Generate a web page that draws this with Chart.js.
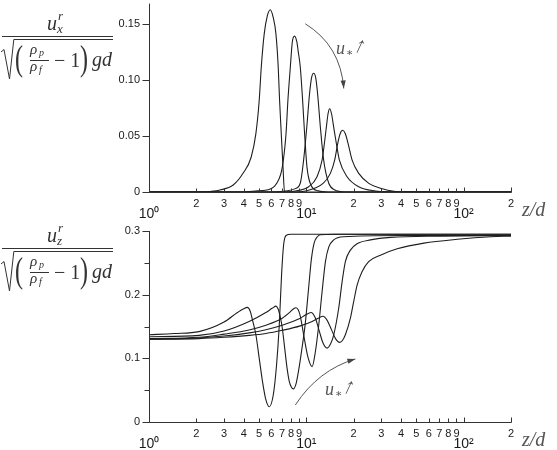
<!DOCTYPE html>
<html>
<head>
<meta charset="utf-8">
<script src="https://cdn.jsdelivr.net/npm/chart.js@4.4.1/dist/chart.umd.min.js"></script>
<style>
  html, body { margin: 0; padding: 0; background: #fff; }
  #page { position: relative; width: 557px; height: 450px; overflow: hidden; }
  .box { position: absolute; left: 0; width: 557px; }
  .m { position: absolute; font-family: "Liberation Serif", "DejaVu Serif", serif; color: #333; line-height: 1; white-space: nowrap; }
  .it { font-style: italic; }
  .g { color: #555; }
  .rule { position: absolute; height: 1px; background: #333; }
</style>
</head>
<body>
<div id="page">
  <div class="box" style="top:-12px;height:236px"><canvas id="topChart"></canvas></div>
  <div class="box" style="top:212px;height:238px"><canvas id="bottomChart"></canvas></div>
  <div id="labels"></div>
</div>
<script>
// x axis (log) ticks, shared by both panels
const xTickValues = [1, 2, 3, 4, 5, 6, 7, 8, 9, 10, 20, 30, 40, 50, 60, 70, 80, 90, 100, 200];
const xTickLabels = [['', '10\u2070'], '2', '3', '4', '5', '6', '7', '8', '9',
  ['', '10\u00b9'], '2', '3', '4', '5', '6', '7', '8', '9', ['', '10\u00b2'], '2'];
const xPowers = [1, 10, 100];

// y ticks
const topYTicks = [0, 0.05, 0.10, 0.15];
const topYLabels = ['0', '0.05', '0.10', '0.15'];
const bottomYTicks = [0, 0.1, 0.2, 0.3];
const bottomYLabels = ['0', '0.1', '0.2', '0.3'];
const bottomYMinor = [0.05, 0.15, 0.25];

// upper panel: u_x^r, five runs (u* increasing)
const topZ1 = [1, 2.11, 2.45, 2.83, 3.43, 3.97, 4.46, 4.78, 5.02, 5.17, 5.40, 5.65, 5.90, 6.15, 6.41, 6.63, 6.76, 6.93, 7.11, 7.27, 200];
const topU1 = [0, 0, 0.0005, 0.0018, 0.0062, 0.0169, 0.031, 0.052, 0.082, 0.111, 0.141, 0.157, 0.1625, 0.156, 0.141, 0.111, 0.082, 0.052, 0.022, 0, 0];
const topZ2 = [1, 3.80, 4.73, 5.62, 6.50, 7.03, 7.43, 7.64, 7.91, 8.15, 8.42, 8.70, 8.89, 9.16, 9.47, 9.75, 10.10, 10.71, 11.92, 13.80, 200];
const topU2 = [0, 0, 0.0009, 0.0018, 0.008, 0.022, 0.052, 0.082, 0.111, 0.134, 0.139, 0.134, 0.125, 0.111, 0.082, 0.052, 0.022, 0.006, 0.001, 0, 0];
const topZ3 = [1, 5.90, 7.35, 8.51, 9.16, 9.61, 10.07, 10.48, 10.80, 11.13, 11.47, 11.80, 12.28, 12.89, 13.87, 15.08, 17.71, 200];
const topU3 = [0, 0, 0.0009, 0.003, 0.008, 0.0284, 0.058, 0.0874, 0.102, 0.1059, 0.102, 0.0874, 0.058, 0.0284, 0.008, 0.002, 0, 0];
const topZ4 = [1, 6.83, 8.51, 10.35, 11.70, 12.59, 13.02, 13.41, 13.75, 14.07, 14.45, 14.92, 15.53, 16.23, 18.16, 21.53, 27.5, 34.3, 200];
const topU4 = [0, 0, 0.0009, 0.0047, 0.0136, 0.0284, 0.043, 0.058, 0.070, 0.0743, 0.070, 0.058, 0.043, 0.0284, 0.0136, 0.0047, 0.0009, 0, 0];
const topZ5 = [1, 7.91, 9.86, 12.78, 14.22, 15.14, 15.82, 16.40, 17.03, 17.70, 18.45, 19.55, 21.53, 24.95, 29.6, 36.9, 45.9, 200];
const topU5 = [0, 0, 0.0009, 0.0077, 0.0166, 0.0284, 0.043, 0.052, 0.055, 0.052, 0.043, 0.0284, 0.0166, 0.0077, 0.0033, 0.0005, 0, 0];

// lower panel: u_z^r, same five runs
const botZ1 = [1, 1.44, 2.08, 3.00, 3.65, 4.00, 4.21, 4.40, 4.55, 4.78, 5.02, 5.27, 5.53, 5.81, 6.16, 6.47, 6.73, 6.96, 7.17, 7.43, 8.0, 200];
const botU1 = [0.137, 0.139, 0.142, 0.157, 0.172, 0.178, 0.180, 0.174, 0.160, 0.137, 0.100, 0.063, 0.035, 0.024, 0.042, 0.090, 0.152, 0.231, 0.278, 0.293, 0.295, 0.295];
const botZ2 = [1, 2.08, 3.00, 4.33, 5.53, 6.10, 6.41, 6.63, 6.83, 7.03, 7.24, 7.54, 7.79, 8.03, 8.27, 8.60, 8.89, 9.16, 9.50, 9.85, 10.34, 10.76, 11.24, 11.75, 12.28, 15, 200];
const botU2 = [0.134, 0.136, 0.143, 0.158, 0.172, 0.179, 0.182, 0.177, 0.165, 0.148, 0.122, 0.085, 0.064, 0.055, 0.052, 0.060, 0.078, 0.098, 0.125, 0.155, 0.210, 0.255, 0.282, 0.291, 0.294, 0.295, 0.295];
const botZ3 = [1, 2.08, 3.00, 4.33, 5.53, 7.03, 7.91, 8.30, 8.60, 8.90, 9.16, 9.68, 10.26, 10.89, 11.41, 11.99, 12.60, 13.23, 13.90, 14.94, 17.30, 39.6, 200];
const botU3 = [0.131, 0.133, 0.138, 0.1445, 0.152, 0.163, 0.173, 0.178, 0.1795, 0.176, 0.166, 0.133, 0.101, 0.087, 0.110, 0.152, 0.205, 0.252, 0.275, 0.286, 0.291, 0.293, 0.293];
const botZ4 = [1, 2.08, 3.00, 4.33, 5.53, 7.03, 9.01, 9.86, 10.71, 11.38, 12.05, 12.77, 13.55, 14.22, 14.94, 16.07, 16.88, 17.71, 19.06, 21.03, 25.6, 34.3, 71.4, 200];
const botU4 = [0.130, 0.132, 0.135, 0.140, 0.145, 0.152, 0.162, 0.168, 0.172, 0.164, 0.144, 0.124, 0.116, 0.122, 0.137, 0.179, 0.220, 0.252, 0.270, 0.280, 0.286, 0.290, 0.292, 0.293];
const botZ5 = [1, 2.08, 3.00, 4.33, 5.53, 7.03, 9.16, 10.89, 11.92, 12.77, 13.54, 14.43, 15.33, 16.30, 16.97, 17.71, 19.06, 20.0, 21.03, 22.6, 24.9, 29.6, 37.8, 55.9, 91.2, 148.6, 200];
const botU5 = [0.130, 0.131, 0.133, 0.136, 0.139, 0.144, 0.151, 0.158, 0.163, 0.166, 0.160, 0.1455, 0.131, 0.125, 0.128, 0.137, 0.163, 0.189, 0.215, 0.236, 0.252, 0.262, 0.272, 0.281, 0.287, 0.291, 0.292];

// "u* increasing" arrows: start, control, end (data coordinates)
const topArrow = [[9.85, 0.150], [16.5, 0.1305], [17.3, 0.0923]];
const bottomArrow = [[8.51, 0.0267], [11.92, 0.0817], [20.5, 0.099]];

Chart.defaults.font.family = '"Liberation Sans", Arial, sans-serif';

const toPoints = (zs, us) => zs.map((z, i) => ({ x: z, y: us[i] }));
const curve = (zs, us) => ({
  data: toPoints(zs, us),
  borderColor: '#1e1e1e',
  borderWidth: 1.1,
  pointRadius: 0,
  fill: false,
  cubicInterpolationMode: 'monotone'
});

// axis lines, inward x ticks, outward y ticks, and the annotation arrow
const axisTicks = {
  id: 'axisTicks',
  afterDraw(chart, args, opts) {
    const { ctx, chartArea: a, scales: { x, y } } = chart;
    ctx.save();
    ctx.strokeStyle = '#333';
    ctx.lineWidth = 1;
    ctx.beginPath();
    const L = Math.round(a.left) + 0.5, B = Math.round(a.bottom) + 0.5;
    ctx.moveTo(L, a.top);
    ctx.lineTo(L, B);
    ctx.lineTo(a.right + 0.5, B);
    xTickValues.forEach(v => {
      const px = Math.round(x.getPixelForValue(v)) + 0.5;
      const len = xPowers.includes(v) || v === 200 ? 5 : 4;
      ctx.moveTo(px, B);
      ctx.lineTo(px, B - len);
    });
    opts.yMajor.forEach(v => {
      const py = Math.round(y.getPixelForValue(v)) + 0.5;
      ctx.moveTo(L - 7, py);
      ctx.lineTo(L, py);
    });
    (opts.yMinor || []).forEach(v => {
      const py = Math.round(y.getPixelForValue(v)) + 0.5;
      ctx.moveTo(L - 5, py);
      ctx.lineTo(L, py);
    });
    ctx.stroke();

    const p = opts.arrow.map(([zv, uv]) => [x.getPixelForValue(zv), y.getPixelForValue(uv)]);
    ctx.strokeStyle = '#555';
    ctx.fillStyle = '#444';
    ctx.beginPath();
    ctx.moveTo(p[0][0], p[0][1]);
    ctx.quadraticCurveTo(p[1][0], p[1][1], p[2][0], p[2][1]);
    ctx.stroke();
    const ang = Math.atan2(p[2][1] - p[1][1], p[2][0] - p[1][0]);
    ctx.beginPath();
    ctx.moveTo(p[2][0], p[2][1]);
    ctx.lineTo(p[2][0] - 8 * Math.cos(ang) + 2.6 * Math.sin(ang), p[2][1] - 8 * Math.sin(ang) - 2.6 * Math.cos(ang));
    ctx.lineTo(p[2][0] - 8 * Math.cos(ang) - 2.6 * Math.sin(ang), p[2][1] - 8 * Math.sin(ang) + 2.6 * Math.cos(ang));
    ctx.closePath();
    ctx.fill();
    ctx.restore();
  }
};

function makeChart(id, datasets, yMax, yTicks, yLabels, pad, xHeight, tickOpts) {
  return new Chart(document.getElementById(id), {
    type: 'line',
    data: { datasets },
    plugins: [axisTicks],
    options: {
      responsive: true,
      maintainAspectRatio: false,
      animation: false,
      layout: { padding: { left: 0, right: 46, top: pad, bottom: 0 } },
      plugins: { legend: { display: false }, tooltip: { enabled: false }, axisTicks: tickOpts },
      scales: {
        x: {
          type: 'logarithmic',
          min: 1,
          max: 200,
          grid: { display: false, drawTicks: false },
          border: { display: false },
          afterBuildTicks: s => { s.ticks = xTickValues.map(v => ({ value: v })); },
          afterFit: s => { s.height = xHeight; },
          ticks: {
            autoSkip: false,
            maxRotation: 0,
            padding: 8,
            color: '#1a1a1a',
            font: c => (c.tick && xPowers.includes(c.tick.value)) ? { size: 14, lineHeight: 0.68 } : { size: 11, lineHeight: 0.8 },
            callback: (v, i) => xTickLabels[i]
          }
        },
        y: {
          min: 0,
          max: yMax,
          grid: { display: false, drawTicks: false },
          border: { display: false },
          afterBuildTicks: s => { s.ticks = yTicks.map(v => ({ value: v })); },
          afterFit: s => { s.width = 149; },
          ticks: {
            padding: 9,
            color: '#1a1a1a',
            font: { size: 11 },
            callback: (v, i) => yLabels[i]
          }
        }
      }
    }
  });
}

makeChart('topChart', [
  curve(topZ1, topU1), curve(topZ2, topU2), curve(topZ3, topU3), curve(topZ4, topU4), curve(topZ5, topU5)
], 0.168, topYTicks, topYLabels, 15, 32, { yMajor: topYTicks, yMinor: [], arrow: topArrow });

makeChart('bottomChart', [
  curve(botZ1, botU1), curve(botZ2, botU2), curve(botZ3, botU3), curve(botZ4, botU4), curve(botZ5, botU5)
], 0.3, bottomYTicks, bottomYLabels, 19, 28, { yMajor: bottomYTicks, yMinor: bottomYMinor, arrow: bottomArrow });

// axis titles and annotations as html text
function formula(top, sub) {
  return `<div style="position:absolute;left:0;top:${top}px;width:120px;height:84px">
    <span class="m it" style="left:47px;top:13px;font-size:20px">u</span>
    <span class="m it" style="left:58px;top:9px;font-size:13px">r</span>
    <span class="m it" style="left:57px;top:22px;font-size:13px">${sub}</span>
    <div class="rule" style="left:2px;top:36px;width:111px"></div>
    <svg style="position:absolute;left:0;top:0" width="120" height="84"><path d="M1 52 L4 49.5 L9.5 79 L13.8 39.5 L113 39.5" fill="none" stroke="#333" stroke-width="1"/></svg>
    <span class="m" style="left:15px;top:40px;font-size:24px;transform:scaleY(1.5);transform-origin:0 0">(</span>
    <span class="m it" style="left:30px;top:42px;font-size:15px">\u03c1</span>
    <span class="m it" style="left:39px;top:48px;font-size:10px">p</span>
    <div class="rule" style="left:30px;top:60px;width:19px"></div>
    <span class="m it" style="left:30px;top:59px;font-size:15px">\u03c1</span>
    <span class="m it" style="left:39px;top:65px;font-size:10px">f</span>
    <span class="m" style="left:54px;top:50px;font-size:20px">\u2212&nbsp;1</span>
    <span class="m" style="left:80px;top:40px;font-size:24px;transform:scaleY(1.5);transform-origin:0 0">)</span>
    <span class="m it" style="left:92px;top:49px;font-size:20px">gd</span>
  </div>`;
}
function ustar(left, top) {
  return `<span class="m it g" style="left:${left}px;top:${top}px;font-size:18px">u</span>
    <span class="m g" style="left:${left + 10}px;top:${top + 8}px;font-size:11px">\u2217</span>
    <span class="m g" style="left:${left + 19}px;top:${top - 4}px;font-size:21px;transform:skewX(-25deg)">\u2191</span>`;
}
document.getElementById('labels').innerHTML =
  formula(0, 'x') + formula(212, 'z') +
  `<span class="m it g" style="left:522px;top:199px;font-size:20px">z/d</span>` +
  `<span class="m it g" style="left:522px;top:429px;font-size:20px">z/d</span>` +
  ustar(336, 39) + ustar(325, 380);
</script>
</body>
</html>
